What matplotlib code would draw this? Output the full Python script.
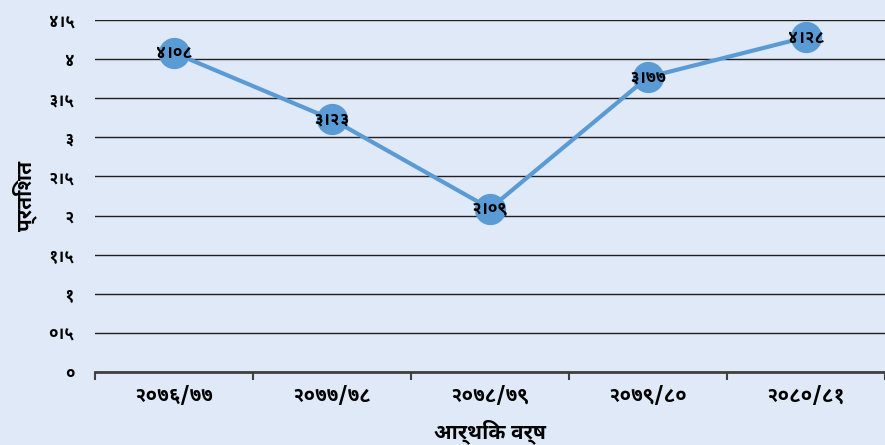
import matplotlib
matplotlib.use("Agg")
import matplotlib.pyplot as plt
from matplotlib import font_manager as fm

# Devanagari-capable font, preferring one with a real bold face
FONT = "DejaVu Sans"
for cand in ["Noto Sans Devanagari UI", "Noto Sans Devanagari", "Mukta", "Hind"]:
    try:
        path = fm.findfont(fm.FontProperties(family=cand, weight="bold"),
                           fallback_to_default=False)
        FONT = cand
        break
    except Exception:
        pass
plt.rcParams["font.family"] = [FONT, "DejaVu Sans"]

years = ["२०७६/७७", "२०७७/७८", "२०७८/७९", "२०७९/८०", "२०८०/८१"]
values = [4.08, 3.23, 2.09, 3.77, 4.28]
value_labels = ["४।०८", "३।२३", "२।०९", "३।७७", "४।२८"]
yticks = [0, 0.5, 1, 1.5, 2, 2.5, 3, 3.5, 4, 4.5]
ytick_labels = ["०", "०।५", "१", "१।५", "२", "२।५", "३", "३।५", "४", "४।५"]

BG = "#dfe9f7"
LINE = "#5b9bd5"

fig = plt.figure(figsize=(8.85, 4.45), dpi=100, facecolor=BG)
ax = fig.add_axes([95 / 885, 73 / 445, 790 / 885, 352 / 445], facecolor=BG)

x = list(range(len(years)))
ax.plot(x, values, color=LINE, lw=3, marker="o", ms=21.5, mfc=LINE, mec=LINE, zorder=3)
for xi, v, lab in zip(x, values, value_labels):
    ax.text(xi, v, lab, ha="center", va="center", fontsize=12.5, fontweight="bold",
            color="black", zorder=4)

ax.set_xlim(-0.5, 4.5)
ax.set_ylim(0, 4.5)
ax.set_yticks(yticks)
ax.set_yticklabels(ytick_labels, fontsize=12, fontweight="bold")
ax.set_xticks(x)
ax.set_xticklabels(years, fontsize=14.5, fontweight="bold")
ax.set_xticks([i - 0.5 for i in range(len(years) + 1)], minor=True)
ax.tick_params(axis="x", which="major", length=0, pad=10)
ax.tick_params(axis="x", which="minor", length=6, width=1.5, color="#404040", direction="out")
ax.tick_params(axis="y", length=0, pad=15)
ax.grid(axis="y", color="#202020", lw=1)
for s in ["top", "right", "left"]:
    ax.spines[s].set_visible(False)
ax.spines["bottom"].set_color("#404040")
ax.spines["bottom"].set_linewidth(2)
ax.spines["bottom"].set_zorder(2)

ax.set_xlabel("आर्थिक वर्ष", fontsize=15, fontweight="bold", va="center")
ax.xaxis.set_label_coords(0.5, -0.168)
ax.set_ylabel("प्रतिशत", fontsize=15, fontweight="bold", va="center")
ax.yaxis.set_label_coords(-0.089, 0.5)

fig.savefig("out.png", dpi=100, facecolor=BG)
